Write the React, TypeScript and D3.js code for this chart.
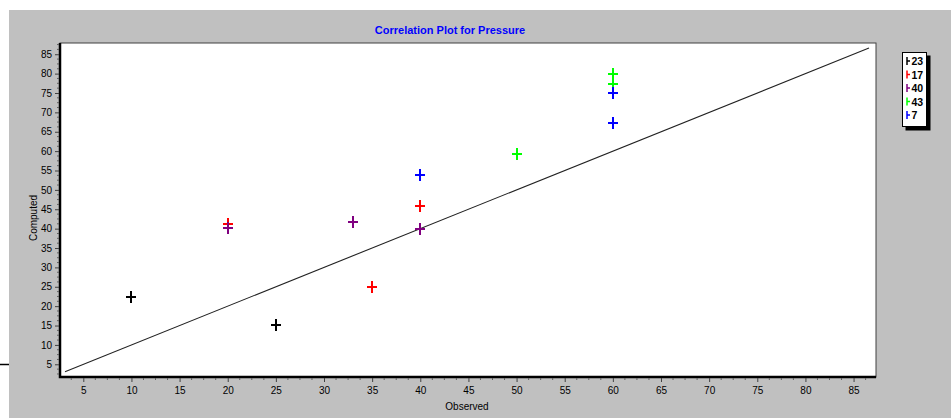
import React, { useEffect, useRef } from 'react';
import * as d3 from 'd3';

// series names and colours (legend order)
const seriesNames = ['23', '17', '40', '43', '7'];
const seriesColors = ['#000000', '#ff0000', '#800080', '#00ff00', '#0000ff'];

// observed / computed values per series
const observed23 = [10, 25];
const computed23 = [22.3, 15.2];
const observed17 = [20, 35, 40];
const computed17 = [41.1, 24.9, 45.9];
const observed40 = [20, 33, 40];
const computed40 = [40.1, 41.6, 39.9];
const observed43 = [50, 60, 60];
const computed43 = [59.3, 79.8, 77.4];
const observed7 = [40, 60, 60];
const computed7 = [53.9, 74.9, 67.3];

const xTicks = [5, 10, 15, 20, 25, 30, 35, 40, 45, 50, 55, 60, 65, 70, 75, 80, 85];
const yTicks = [5, 10, 15, 20, 25, 30, 35, 40, 45, 50, 55, 60, 65, 70, 75, 80, 85];
const identityLine = [3.1, 86.6];

const App = () => {
  const ref = useRef<SVGSVGElement>(null);
  const width = 951;
  const height = 418;
  const plot = { left: 60, top: 43, right: 876, bottom: 377 };

  useEffect(() => {
    const svg = d3.select(ref.current);
    svg.selectAll('*').remove();
    const font = 'Arial, "Liberation Sans", sans-serif';

    const x = d3.scaleLinear([2.58, 87.33], [plot.left, plot.right]);
    const y = d3.scaleLinear([1.72, 87.9], [plot.bottom, plot.top]);

    // background
    svg.append('rect').attr('x', 9).attr('y', 10).attr('width', width - 9).attr('height', height - 10)
      .attr('fill', '#c0c0c0');
    svg.append('line').attr('x1', 0).attr('x2', 9).attr('y1', 364.5).attr('y2', 364.5)
      .attr('stroke', '#000').attr('stroke-width', 1.5);

    // plot area
    svg.append('rect').attr('x', plot.left).attr('y', plot.top)
      .attr('width', plot.right - plot.left).attr('height', plot.bottom - plot.top)
      .attr('fill', '#fff').attr('stroke', '#404040').attr('stroke-width', 1);
    svg.append('path')
      .attr('d', `M${plot.left},${plot.top} V${plot.bottom} H${plot.right}`)
      .attr('fill', 'none').attr('stroke', '#000').attr('stroke-width', 2.5);

    // title
    svg.append('text').attr('x', 450).attr('y', 34).attr('text-anchor', 'middle')
      .attr('font-family', font).attr('font-size', 11).attr('font-weight', 'bold')
      .attr('fill', '#0000ff').text('Correlation Plot for Pressure');

    // x axis
    const minorX = d3.range(3.75, 87, 1.25).filter(v => v % 5 !== 0);
    const gx = svg.append('g').attr('transform', `translate(0,${plot.bottom + 1})`);
    gx.call(d3.axisBottom(x).tickValues(xTicks).tickSize(4).tickPadding(5).tickFormat(d3.format('d')))
      .call(g => g.select('.domain').remove())
      .call(g => g.selectAll('line').attr('stroke', '#404040'))
      .call(g => g.selectAll('text').attr('font-family', font).attr('font-size', 10).attr('fill', '#000'));
    gx.selectAll('.minor').data(minorX).enter().append('line')
      .attr('x1', d => x(d)).attr('x2', d => x(d)).attr('y1', 0).attr('y2', 2)
      .attr('stroke', '#606060');

    // y axis
    const minorY = d3.range(2.5, 87.6, 1.25).filter(v => v % 5 !== 0);
    const gy = svg.append('g').attr('transform', `translate(${plot.left - 1},0)`);
    gy.call(d3.axisLeft(y).tickValues(yTicks).tickSize(4).tickPadding(3).tickFormat(d3.format('d')))
      .call(g => g.select('.domain').remove())
      .call(g => g.selectAll('line').attr('stroke', '#404040'))
      .call(g => g.selectAll('text').attr('font-family', font).attr('font-size', 10).attr('fill', '#000'));
    gy.selectAll('.minor').data(minorY).enter().append('line')
      .attr('x1', 0).attr('x2', -2).attr('y1', d => y(d)).attr('y2', d => y(d))
      .attr('stroke', '#606060');

    // axis titles
    svg.append('text').attr('x', 467).attr('y', 410).attr('text-anchor', 'middle')
      .attr('font-family', font).attr('font-size', 10).text('Observed');
    svg.append('text').attr('transform', `translate(37,${(plot.top + plot.bottom) / 2 + 8}) rotate(-90)`)
      .attr('text-anchor', 'middle').attr('font-family', font).attr('font-size', 10).text('Computed');

    // identity line
    const line = d3.line<number>().x(d => x(d)).y(d => y(d));
    svg.append('path').datum(identityLine).attr('d', line)
      .attr('fill', 'none').attr('stroke', '#222').attr('stroke-width', 1.1);

    // points
    const observed = [observed23, observed17, observed40, observed43, observed7];
    const computed = [computed23, computed17, computed40, computed43, computed7];
    seriesNames.forEach((name, i) => {
      const pts = observed[i].map((o, j) => [o, computed[i][j]]);
      const g = svg.append('g').attr('stroke', seriesColors[i]).attr('stroke-width', 2);
      pts.forEach(p => {
        const cx = Math.round(x(p[0]));
        const cy = Math.round(y(p[1]));
        g.append('path').attr('d', `M${cx - 5},${cy} H${cx + 5} M${cx},${cy - 6} V${cy + 6}`);
      });
    });

    // legend
    const lg = svg.append('g');
    lg.append('rect').attr('x', 905.5).attr('y', 55.5).attr('width', 25).attr('height', 75).attr('fill', '#000');
    lg.append('rect').attr('x', 902.5).attr('y', 52.5).attr('width', 24).attr('height', 74)
      .attr('fill', '#fff').attr('stroke', '#000');
    seriesNames.forEach((name, i) => {
      const ly = 61 + i * 13.5;
      lg.append('path').attr('d', `M907,${ly - 4} V${ly + 4} M907,${ly} H910`)
        .attr('stroke', seriesColors[i]).attr('stroke-width', 1.5).attr('fill', 'none');
      lg.append('text').attr('x', 911.5).attr('y', ly + 4).attr('font-family', font)
        .attr('font-size', 10.5).attr('font-weight', 'bold').attr('fill', '#000').text(name);
    });
  }, []);

  return (
    <svg ref={ref} width={width} height={height}
      style={{ position: 'absolute', left: 0, top: 0, display: 'block', background: '#fff' }} />
  );
};

export default App;
